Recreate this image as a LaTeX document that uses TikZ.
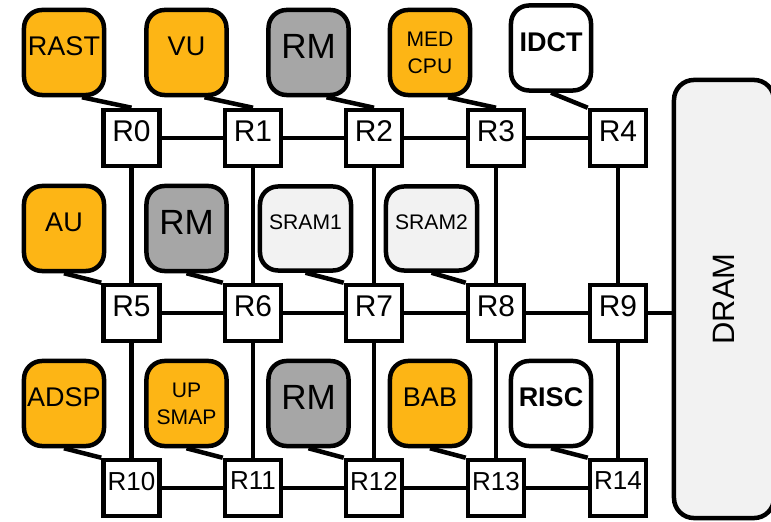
\documentclass[tikz,border=0pt]{standalone}
\usepackage{fontspec}
\setmainfont{Liberation Sans}
\usepackage{xcolor}
\usetikzlibrary{positioning}
\definecolor{iporange}{RGB}{253,181,21}
\definecolor{ipgray}{RGB}{166,166,166}
\definecolor{iplight}{RGB}{242,242,242}
\tikzset{
  ip/.style={rectangle, rounded corners=0.45cm, draw=black, line width=3.2pt,
             fill=#1, minimum width=2cm, minimum height=2.125cm,
             inner sep=2pt, text depth=0.3cm,
             font=\fontsize{19.2}{23}\selectfont},
  ip/.default=white,
  rmtxt/.style={font=\fontsize{24.9}{29}\selectfont},
  smalltxt/.style={font=\fontsize{15}{19}\selectfont},
  boldtxt/.style={font=\fontsize{19.2}{23}\selectfont\bfseries},
  pair/.style={align=center, text depth={}},
  memwide/.style={minimum width=2.275cm, minimum height=2.1cm},
  router/.style={rectangle, draw=black, line width=3.2pt, fill=white,
                 minimum size=1.4cm, inner sep=0pt, text depth=0.35cm},
  mem/.style={rectangle, rounded corners=0.5cm, draw=black, line width=3.2pt,
              fill=iplight, minimum width=2.5cm, minimum height=10.95cm,
              font=\fontsize{22}{26}\selectfont},
  link/.style={line width=3.2pt, black},
}
\begin{document}
\begin{tikzpicture}[x=0.025cm, y=0.025cm]
  \useasboundingbox (0,0) rectangle (771,521);
  %% off-chip memory
  \node[mem] (dram) at (724,222) {\rotatebox{90}{DRAM}};
  %% router mesh
  \foreach \row/\y in {0/383, 1/208, 2/33}
    \foreach \col/\x in {0/131.5, 1/253, 2/374, 3/496, 4/618} {
      \pgfmathtruncatemacro\n{5*\row+\col}
      \ifnum\n>9 \def\rf{18.5}\else\def\rf{21.3}\fi
      \node[router, font=\fontsize{\rf}{\rf}\selectfont] (r\n) at (\x,\y) {R\n};
    }
  \foreach \a/\b in {0/1,1/2,2/3,3/4,5/6,6/7,7/8,8/9,10/11,11/12,12/13,13/14}
    \draw[link] (r\a) -- (r\b);
  \foreach \a/\b in {0/5,1/6,2/7,3/8,4/9,5/10,6/11,7/12,8/13,9/14}
    \draw[link] (r\a) -- (r\b);
  \draw[link] (r9.east) -- (r9.east -| dram.west);
  %% IP blocks
  \node[ip=iporange]                  (rast)   at (64,468.5)    {RAST};
  \node[ip=iporange]                  (vu)     at (186.5,468.5) {VU};
  \node[ip=ipgray, rmtxt]             (rm0)    at (308.5,468.5) {RM};
  \node[ip=iporange, smalltxt, pair]  (medcpu) at (430,468.5)   {MED\\CPU};
  \node[ip, boldtxt]                  (idct)   at (551,473)     {IDCT};
  \node[ip=iporange]                  (au)     at (64,292.5)    {AU};
  \node[ip=ipgray, rmtxt]             (rm1)    at (186.5,292.5) {RM};
  \node[ip=iplight, memwide, smalltxt](sram1)  at (305.5,292.5) {SRAM1};
  \node[ip=iplight, memwide, smalltxt](sram2)  at (431.5,292.5) {SRAM2};
  \node[ip=iporange]                  (adsp)   at (64,117.5)    {ADSP};
  \node[ip=iporange, smalltxt, pair]  (upsmap) at (186.5,117.5) {UP\\SMAP};
  \node[ip=ipgray, rmtxt]             (rm2)    at (308.5,117.5) {RM};
  \node[ip=iporange]                  (bab)    at (430,117.5)   {BAB};
  \node[ip, boldtxt]                  (risc)   at (551,117.5)   {RISC};
  %% block to router links
  \foreach \b/\r in {rast/0, vu/1, rm0/2, medcpu/3}
    \draw[link] ([xshift=0.45cm]\b.south) -- (r\r.north);
  \foreach \b/\r in {idct/4, au/5, rm1/6, sram1/7, sram2/8,
                     adsp/10, upsmap/11, rm2/12, bab/13, risc/14}
    \draw[link] (\b.south) -- (r\r.north west);
\end{tikzpicture}
\end{document}
